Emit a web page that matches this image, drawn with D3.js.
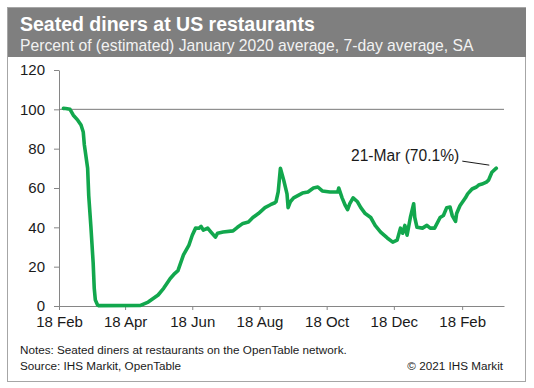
<!DOCTYPE html>
<html>
<head>
<meta charset="utf-8">
<script src="https://cdn.jsdelivr.net/npm/d3@7"></script>
<style>
  body { margin: 0; background: #fff; }
  svg { display: block; font-family: "Liberation Sans", Arial, sans-serif; }
</style>
</head>
<body>
<svg id="chart" width="534" height="388"></svg>
<script>
// seated diners, % of Jan 2020 avg
const dates = [
  '2020-02-22','2020-02-24','2020-02-28','2020-03-02','2020-03-06','2020-03-09','2020-03-11',
  '2020-03-12','2020-03-15','2020-03-16','2020-03-18','2020-03-20','2020-03-21','2020-03-22',
  '2020-03-24','2020-03-25','2020-05-02','2020-05-09','2020-05-18','2020-05-23','2020-05-29',
  '2020-06-02','2020-06-05','2020-06-10','2020-06-15','2020-06-18','2020-06-21','2020-06-24',
  '2020-06-26','2020-06-28','2020-07-02','2020-07-05','2020-07-09','2020-07-11','2020-07-16',
  '2020-07-25','2020-07-29','2020-08-03','2020-08-08','2020-08-12','2020-08-17','2020-08-23',
  '2020-08-28','2020-09-01','2020-09-02','2020-09-04','2020-09-06','2020-09-09','2020-09-12',
  '2020-09-13','2020-09-15','2020-09-18','2020-09-26','2020-10-01','2020-10-06','2020-10-10',
  '2020-10-14','2020-10-21','2020-10-28','2020-10-29','2020-11-01','2020-11-04','2020-11-06',
  '2020-11-08','2020-11-11','2020-11-15','2020-11-18','2020-11-22','2020-11-27','2020-12-01',
  '2020-12-06','2020-12-12','2020-12-17','2020-12-21','2020-12-24','2020-12-26','2020-12-28',
  '2020-12-30','2021-01-02','2021-01-05','2021-01-06','2021-01-08','2021-01-13','2021-01-17',
  '2021-01-20','2021-01-24','2021-01-29','2021-02-01','2021-02-04','2021-02-07','2021-02-09',
  '2021-02-12','2021-02-13','2021-02-16','2021-02-21','2021-02-23','2021-02-27','2021-03-03',
  '2021-03-05','2021-03-08','2021-03-12','2021-03-14','2021-03-17','2021-03-21'
];
const values = [
  100.5, 100.4, 100, 97, 94.5, 92, 88.5,
  82, 70, 56, 40, 22, 9, 3,
  0.5, 0.2, 0.3, 2, 5.6, 9, 14,
  16.5, 18, 26, 31, 36, 39.6, 39.5,
  40.5, 38.6, 39.6, 37.6, 35, 37, 37.6,
  38.2, 40, 42, 42.7, 45, 47, 50,
  51.5, 52.5, 53, 58, 70, 64, 57,
  50, 53, 55, 57.4, 58, 60, 60.5,
  58.5, 58, 58, 60, 55, 51, 49,
  52, 55, 53, 50, 47, 45, 41,
  37.6, 34.6, 32.5, 33.5, 39.6, 37, 41,
  36, 45, 52, 45, 40, 39.6, 41,
  39.6, 39.6, 45, 46, 50, 50.3, 46,
  43, 47, 51, 55, 57, 59.5, 60.5,
  61.5, 62, 63, 64, 68, 70.1
];
const yTicks = [0, 20, 40, 60, 80, 100, 120];
const xTicks = ['2020-02-18','2020-04-18','2020-06-18','2020-08-18','2020-10-18','2020-12-18','2021-02-18'];
const xDomain = ['2020-02-18', '2021-03-28'];
const title = 'Seated diners at US restaurants';
const subtitle = 'Percent of (estimated) January 2020 average, 7-day average, SA';
const noteLines = ['Notes: Seated diners at restaurants on the OpenTable network.', 'Source: IHS Markit, OpenTable'];
const copyright = '\u00a9 2021 IHS Markit';
const lastLabel = '21-Mar (70.1%)';

const parse = d3.timeParse('%Y-%m-%d');
const data = dates.map((d, i) => ({date: parse(d), v: values[i]}));

const svg = d3.select('#chart');
const axisColor = '#868686';
const lineColor = '#12a74d';

// frame + header band
svg.append('rect')
  .attr('x', 7.5).attr('y', 7.5).attr('width', 518).attr('height', 374)
  .attr('fill', 'none').attr('stroke', '#a6a6a6');
svg.append('rect')
  .attr('x', 8).attr('y', 8).attr('width', 518).attr('height', 49)
  .attr('fill', '#7f7f7f');
svg.append('text')
  .attr('x', 20).attr('y', 31)
  .attr('fill', '#fff').attr('font-size', 19.5).attr('font-weight', 'bold')
  .text(title);
svg.append('text')
  .attr('x', 20).attr('y', 51)
  .attr('fill', '#f2f2f2').attr('font-size', 15.7)
  .text(subtitle);

const x = d3.scaleTime()
  .domain(xDomain.map(parse))
  .range([59, 504]);
const y = d3.scaleLinear()
  .domain([0, 120])
  .range([306, 70]);

// x axis
const xg = svg.append('g')
  .attr('transform', 'translate(0,' + y(0) + ')')
  .call(d3.axisBottom(x)
    .tickValues(xTicks.map(parse))
    .tickSize(4)
    .tickSizeOuter(0)
    .tickPadding(6)
    .tickFormat(d3.timeFormat('%d %b')));

// y axis
const yg = svg.append('g')
  .attr('transform', 'translate(' + x.range()[0] + ',0)')
  .call(d3.axisLeft(y)
    .tickValues(yTicks)
    .tickSize(5)
    .tickSizeOuter(0)
    .tickPadding(9));

[xg, yg].forEach(g => {
  g.select('.domain').attr('stroke', axisColor);
  g.selectAll('.tick line').attr('stroke', axisColor);
  g.selectAll('.tick text')
    .attr('fill', '#1a1a1a')
    .attr('font-size', 15)
    .attr('font-family', '"Liberation Sans", Arial, sans-serif');
});

// 100 reference line
svg.append('line')
  .attr('x1', x.range()[0]).attr('x2', x.range()[1])
  .attr('y1', y(100)).attr('y2', y(100))
  .attr('stroke', '#7a7a7a').attr('stroke-width', 1);

// series
const line = d3.line()
  .x(d => x(d.date))
  .y(d => y(d.v));
svg.append('path')
  .datum(data)
  .attr('d', line)
  .attr('fill', 'none')
  .attr('stroke', lineColor)
  .attr('stroke-width', 3.6)
  .attr('stroke-linejoin', 'round')
  .attr('stroke-linecap', 'round');

// label for last point
const last = data[data.length - 1];
const lx = x(last.date), ly = y(last.v);
svg.append('line')
  .attr('x1', lx - 34).attr('y1', ly - 7)
  .attr('x2', lx - 7).attr('y2', ly - 3)
  .attr('stroke', '#1a1a1a').attr('stroke-width', 1);
svg.append('text')
  .attr('x', lx - 37).attr('y', ly - 7)
  .attr('text-anchor', 'end')
  .attr('font-size', 15.6)
  .attr('fill', '#1a1a1a')
  .text(lastLabel);

// footer
svg.selectAll('.note')
  .data(noteLines)
  .enter().append('text')
  .attr('class', 'note')
  .attr('x', 20)
  .attr('y', (d, i) => 354 + i * 16)
  .attr('font-size', 11.7)
  .attr('fill', '#1a1a1a')
  .text(d => d);
svg.append('text')
  .attr('x', 503).attr('y', 370)
  .attr('text-anchor', 'end')
  .attr('font-size', 11.7)
  .attr('fill', '#1a1a1a')
  .text(copyright);
</script>
</body>
</html>
